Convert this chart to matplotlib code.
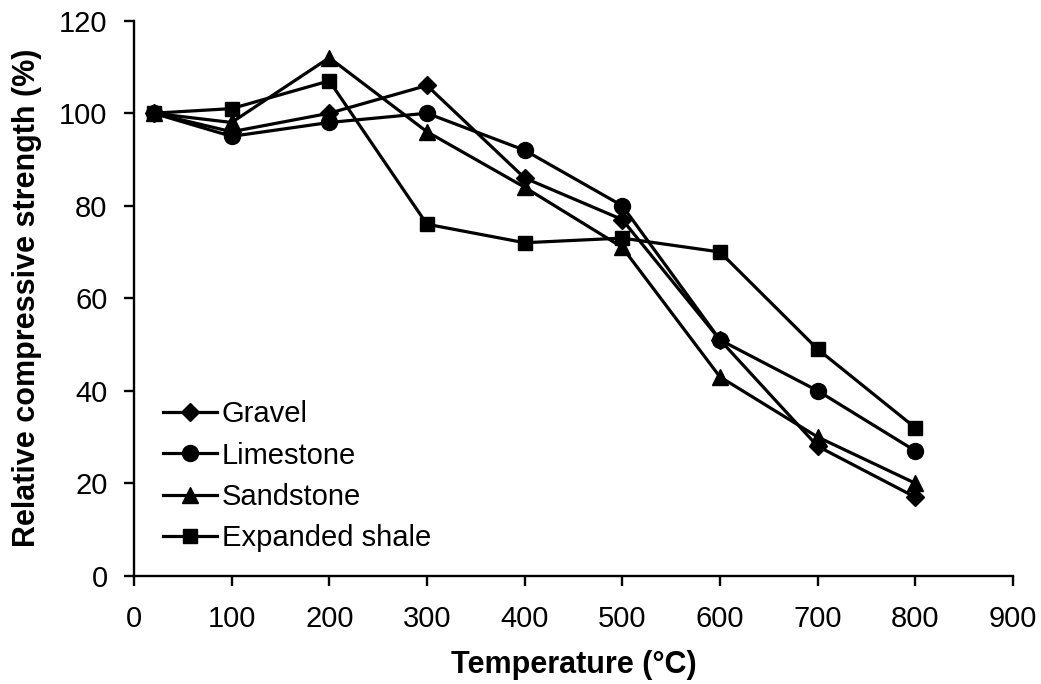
import matplotlib.pyplot as plt

plt.rcParams['font.family'] = ['Liberation Sans', 'DejaVu Sans']

# ---- データ ----
temps = [20, 100, 200, 300, 400, 500, 600, 700, 800]
gravel = [100, 96, 100, 106, 86, 77, 51, 28, 17]
limestone = [100, 95, 98, 100, 92, 80, 51, 40, 27]
sandstone = [100, 98, 112, 96, 84, 71, 43, 30, 20]
shale = [100, 101, 107, 76, 72, 73, 70, 49, 32]

fig = plt.figure(figsize=(10.41, 6.84), dpi=100)
ax = fig.add_axes([0.1287, 0.1583, 0.8443, 0.8114])

lw = 2.3
ax.plot(temps, gravel, color='black', lw=lw, marker='D', ms=9, label='Gravel')
ax.plot(temps, limestone, color='black', lw=lw, marker='o', ms=11.5, label='Limestone')
ax.plot(temps, sandstone, color='black', lw=lw, marker='^', ms=11, label='Sandstone')
ax.plot(temps, shale, color='black', lw=lw, marker='s', ms=10, label='Expanded shale')

ax.set_xlim(0, 900)
ax.set_ylim(0, 120)
ax.set_xticks(range(0, 901, 100))
ax.set_yticks(range(0, 121, 20))
ax.spines['top'].set_visible(False)
ax.spines['right'].set_visible(False)
for sp in ('left', 'bottom'):
    ax.spines[sp].set_linewidth(1.7)
ax.tick_params(direction='out', length=7, width=1.7, labelsize=21)
ax.tick_params(axis='x', pad=14)
ax.tick_params(axis='y', pad=12)

ax.set_xlabel('Temperature (°C)', fontsize=22, fontweight='bold', labelpad=12)
ax.set_ylabel('Relative compressive strength (%)', fontsize=22, fontweight='bold', labelpad=12)

ax.legend(loc='lower left', bbox_to_anchor=(0.013, 0.011), frameon=False,
          fontsize=21, handlelength=1.85, handletextpad=0.17, labelspacing=0.455,
          borderaxespad=0.2)

plt.savefig('out.png', dpi=100)
